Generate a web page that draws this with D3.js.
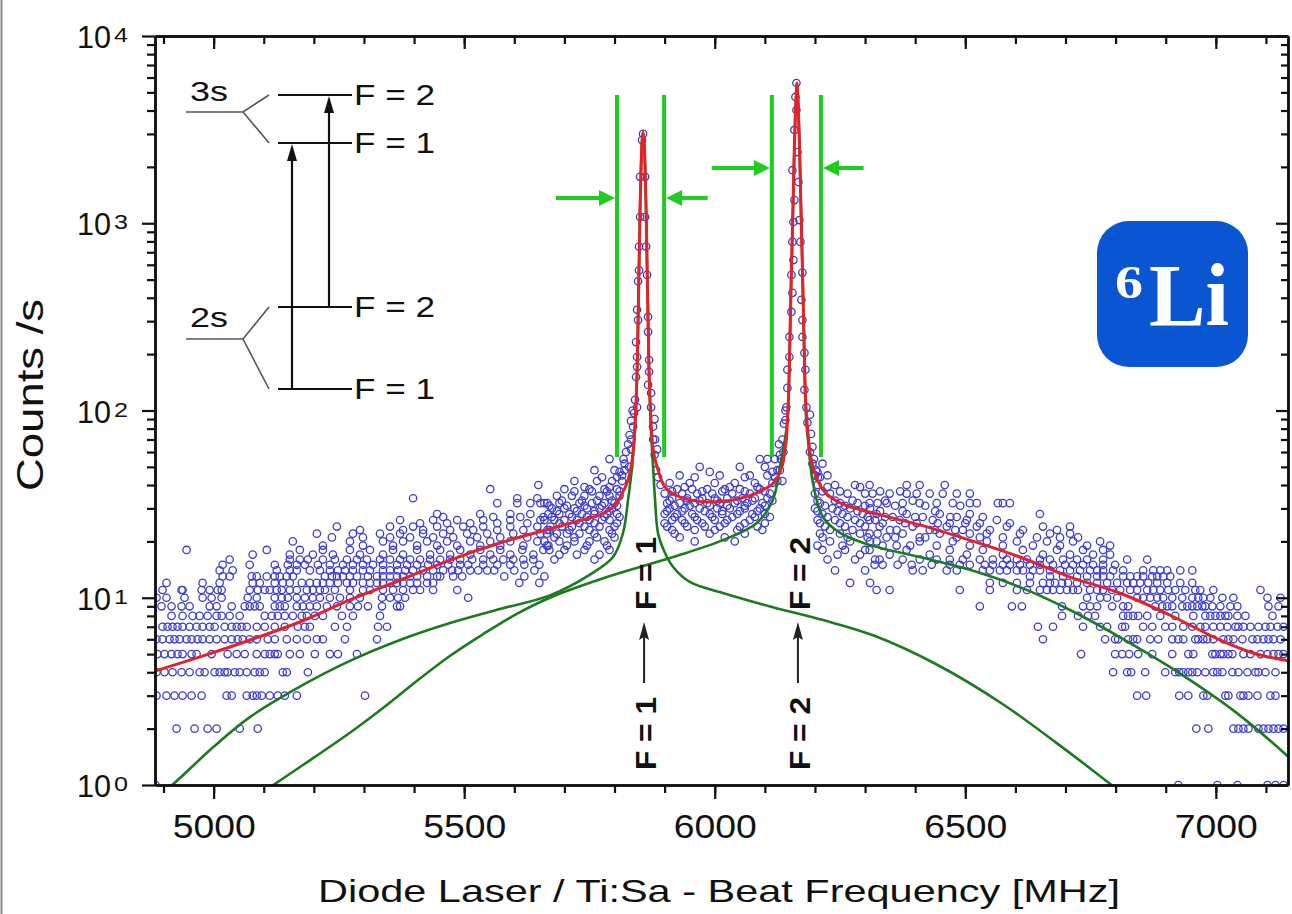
<!DOCTYPE html>
<html>
<head>
<meta charset="utf-8">
<script src="https://cdn.jsdelivr.net/npm/d3@7"></script>
<style>
  body { margin: 0; background: #fff; }
  svg { display: block; }
  text { font-family: "Liberation Sans", Arial, sans-serif; }
</style>
</head>
<body>
<svg id="chart" width="1292" height="914"></svg>
<script>
// ---- axes ----
const xDomain = [4883, 7144];
const yDomain = [1, 10000];
const xMajorTicks = [5000, 5500, 6000, 6500, 7000];
const xMinorTicks = d3.range(4900, 7144, 100);
const yMajorTicks = [1, 10, 100, 1000, 10000];
const yExponents = ["0", "1", "2", "3", "4"];

// ---- measured count rates, one row per integer count level ----
const lowRateRows = [
  [1, [4884, 6925, 7003, 7043, 7103, 7119, 7135]],
  [2, [4926, 4962, 4988, 5006, 5052, 5088, 6961, 6985, 7035, 7045, 7055, 7065, 7085, 7095, 7105, 7115, 7125, 7135]],
  [3, [4886, 4906, 4922, 4938, 4956, 4976, 5026, 5036, 5066, 5078, 5086, 5096, 5112, 5128, 5142, 5166, 5302,
       6843, 6861, 6927, 6945, 6975, 6983, 7019, 7025, 7049, 7055, 7065, 7083, 7109, 7119]],
  [4, [4886, 4902, 4918, 4936, 4952, 4972, 4982, 5002, 5012, 5022, 5028, 5042, 5052, 5066, 5082, 5092, 5102, 5138, 5146, 5188,
       6795, 6823, 6831, 6859, 6899, 6919, 6927, 6935, 6945, 6953, 6963, 6979, 6995, 7003, 7013, 7033, 7045, 7063, 7079, 7085, 7099, 7119]],
  [5, [4888, 4902, 4916, 4928, 4938, 4956, 4966, 4996, 5028, 5046, 5062, 5086, 5102, 5112, 5122, 5128, 5152, 5172, 5202, 5232, 5248, 5286,
       6731, 6799, 6813, 6827, 6845, 6873, 6913, 6945, 6955, 6993, 6999, 7009, 7015, 7025, 7033, 7055, 7069, 7089, 7103, 7115, 7125, 7135]],
  [6, [4886, 4898, 4912, 4922, 4932, 4946, 4956, 4968, 4978, 4992, 5006, 5022, 5036, 5048, 5058, 5072, 5086, 5108, 5122, 5146, 5166, 5186, 5206, 5218, 5262, 5326,
       6655, 6779, 6799, 6805, 6825, 6835, 6843, 6869, 6885, 6913, 6925, 6935, 6959, 6965, 6975, 6983, 6995, 7015, 7025, 7035, 7053, 7073, 7083, 7095, 7105, 7115, 7129]],
  [7, [4898, 4908, 4918, 4928, 4938, 4952, 4966, 4978, 4992, 5002, 5022, 5036, 5046, 5056, 5066, 5086, 5102, 5122, 5142, 5168, 5182, 5192, 5242, 5266, 5328, 5346,
       6645, 6675, 6735, 6769, 6783, 6813, 6819, 6855, 6873, 6899, 6913, 6935, 6953, 6969, 6979, 6995, 7009, 7023, 7039, 7045, 7055, 7069, 7085, 7099, 7109, 7123, 7135]],
  [8, [4916, 4938, 4958, 4972, 4988, 5006, 5016, 5032, 5052, 5102, 5116, 5128, 5142, 5158, 5176, 5186, 5202, 5218, 5256, 5278, 5332,
       6693, 6725, 6745, 6759, 6815, 6825, 6835, 6845, 6863, 6889, 6919, 6955, 6979, 6989, 6999, 7009, 7019, 7025, 7043, 7059, 7113]],
  [9, [4896, 4916, 4936, 4952, 4992, 5006, 5036, 5062, 5072, 5082, 5092, 5122, 5132, 5142, 5166, 5178, 5192, 5206, 5226, 5246, 5272, 5288, 5308, 5336, 5366, 5372,
       6529, 6593, 6613, 6693, 6735, 6749, 6763, 6793, 6815, 6825, 6879, 6893, 6903, 6913, 6933, 6943, 6953, 6963, 6973, 6979, 6993, 7009, 7029, 7043, 7105, 7125]],
  [10, [4886, 4906, 4942, 4978, 4996, 5016, 5068, 5086, 5122, 5136, 5148, 5166, 5182, 5198, 5212, 5232, 5252, 5272, 5292, 5336, 5352, 5368, 5382, 5508,
        6743, 6769, 6783, 6803, 6843, 6855, 6869, 6883, 6895, 6913, 6933, 6953, 6965, 6975, 6989, 7013, 7035, 7103, 7129]]
];

const cloudRows = [
  [11, [4898, 4936, 4938, 4976, 4992, 5008, 5016, 5072, 5088, 5102, 5112, 5126, 5136, 5152, 5166, 5186, 5198, 5212, 5222, 5242, 5272, 5298, 5312, 5338, 5358, 5378, 5398, 5412, 5438, 5486,
        6323, 6349, 6489, 6549, 6603, 6623, 6649, 6663, 6675, 6689, 6703, 6715, 6725, 6749, 6763, 6775, 6793, 6809, 6829, 6843, 6863, 6875, 6889, 6905, 6919, 6939, 6959, 6969, 6995, 7089]],
  [12, [4906, 4978, 5012, 5078, 5092, 5122, 5138, 5152, 5176, 5192, 5206, 5218, 5232, 5248, 5266, 5278, 5298, 5312, 5326, 5338, 5352, 5366, 5378, 5392, 5406, 5426, 5438, 5610, 5650,
        6270, 6310, 6549, 6575, 6603, 6629, 6655, 6669, 6679, 6693, 6705, 6723, 6743, 6763, 6783, 6803, 6823, 6835, 6849, 6865, 6883, 6903, 6929, 6953]],
  [13, [5018, 5032, 5076, 5086, 5106, 5122, 5132, 5146, 5158, 5222, 5236, 5246, 5258, 5272, 5286, 5308, 5326, 5338, 5352, 5366, 5378, 5392, 5406, 5426, 5446, 5452, 5478, 5496, 5580, 5620, 5660,
        6629, 6669, 6695, 6723, 6743, 6763, 6775, 6789, 6815, 6829, 6843, 6855, 6873, 6883, 6895, 6909]],
  [14, [5012, 5038, 5126, 5152, 5166, 5192, 5212, 5232, 5248, 5262, 5278, 5298, 5312, 5338, 5352, 5368, 5382, 5398, 5418, 5438, 5458, 5476, 5488, 5512, 5528, 5546, 5560, 5600, 5640,
        6240, 6300, 6395, 6415, 6463, 6483, 6535, 6549, 6569, 6583, 6603, 6615, 6635, 6649, 6669, 6689, 6709, 6729, 6749, 6763, 6775, 6795, 6815, 6855, 6875, 6889, 6903, 6929, 6953]],
  [15, [5018, 5072, 5122, 5148, 5166, 5182, 5208, 5232, 5258, 5278, 5298, 5318, 5338, 5366, 5386, 5406, 5428, 5446, 5468, 5492, 5508, 5538, 5566, 5592, 5620, 5650,
        6319, 6335, 6365, 6393, 6433, 6469, 6489, 6509, 6539, 6555, 6575, 6589, 6609, 6629, 6649, 6675, 6699, 6715, 6735, 6755, 6775, 6799]],
  [16, [5032, 5152, 5172, 5188, 5218, 5242, 5266, 5286, 5306, 5332, 5352, 5372, 5392, 5412, 5432, 5452, 5472, 5492, 5516, 5538, 5558, 5578, 5598, 5618, 5638, 5680, 5760,
        6225, 6280, 6320, 6329, 6375, 6409, 6443, 6469, 6495, 6529, 6555, 6583, 6603, 6623, 6649, 6669, 6695, 6723, 6743, 6775, 6823, 6863]],
  [17, [5078, 5152, 5198, 5238, 5292, 5338, 5378, 5432, 5472, 5512, 5552, 5592, 5638, 6349, 6429, 6503, 6575, 6655, 6709, 6755, 6789]],
  [18, [4946, 5106, 5172, 5218, 5272, 5312, 5358, 5406, 5452, 5492, 5532, 5572, 5616, 5658, 5670, 5700, 5740, 5790,
        6215, 6260, 6300, 6309, 6383, 6469, 6535, 6615, 6683, 6735, 6775]],
  [19, [5218, 5298, 5358, 5406, 5446, 5486, 5532, 5572, 5618, 5668, 6363, 6443, 6509, 6575, 6635, 6689, 6743, 6789]],
  [20, [5158, 5272, 5338, 5378, 5426, 5466, 5512, 5552, 5592, 5646, 5660, 5690, 5720, 5750, 5780, 5960, 6040,
        6230, 6270, 6310, 6323, 6409, 6475, 6543, 6603, 6663, 6715, 6769]],
  [21, [5236, 5298, 5352, 5392, 5438, 5478, 5526, 5572, 5626, 6343, 6409, 6483, 6529, 6575, 6643, 6689, 6725]],
  [22, [5206, 5278, 5332, 5372, 5418, 5458, 5506, 5546, 5598, 5652, 5665, 5685, 5705, 5730, 5760, 5795, 5920, 5990, 6060,
        6210, 6250, 6290, 6325, 6309, 6375, 6449, 6509, 6543, 6609, 6669, 6709]],
  [23, [5292, 5378, 5418, 5472, 5518, 5566, 5618, 5666, 6363, 6429, 6495, 6549, 6615, 6683]],
  [24, [5246, 5352, 5398, 5446, 5498, 5538, 5592, 5646, 5672, 5695, 5715, 5740, 5770, 5800, 5905, 5945, 5980, 6010, 6050, 6085,
        6220, 6260, 6300, 6329, 6395, 6463, 6523, 6583, 6655, 6709]],
  [25, [5412, 5466, 5512, 5566, 5626, 6335, 6403, 6469, 6529, 6589]],
  [26, [5372, 5438, 5486, 5538, 5592, 5652, 5660, 5680, 5700, 5725, 5750, 5775, 5790, 5915, 5935, 5965, 6000, 6025, 6070,
        6205, 6240, 6280, 6320, 6309, 6369, 6435, 6503, 6563]],
  [27, [5458, 5558, 5612, 5658, 6355, 6415, 6483, 6535]],
  [28, [5446, 5532, 5592, 5632, 5668, 5690, 5710, 5735, 5760, 5785, 5805, 5900, 5925, 5955, 5990, 6015, 6045, 6075, 6100,
        6215, 6255, 6295, 6323, 6383, 6449, 6509, 6649]],
  [30, [5675, 5700, 5720, 5745, 5770, 5795, 5910, 5940, 5970, 6005, 6030, 6060, 6090, 6200, 6235, 6270, 6310]],
  [32, [5566, 5606, 5632, 5652, 5666, 5660, 5690, 5730, 5755, 5780, 5800, 5905, 5930, 5960, 5985, 6010, 6040, 6065, 6095,
        6210, 6250, 6285, 6325, 6309, 6343, 6375, 6409, 6443, 6475, 6509, 6523, 6565, 6575, 6589]],
  [34, [5398, 5606, 5646, 5915, 5945, 5975, 6000, 6025, 6055, 6080, 6105]],
  [35, [5685, 5715, 5740, 5770, 5790, 5810]],
  [36, [5900, 5935, 5965, 5995, 6035, 6070, 6110, 6200, 6230, 6265, 6300, 6315, 6349, 6383, 6403, 6429, 6455, 6483, 6509]],
  [38, [5552, 5700, 5750, 5780, 5805, 5925, 5955, 5985, 6020, 6050, 6090]],
  [40, [5648, 6205, 6240, 6280, 6309, 6383, 6409, 6459]],
  [41, [5910, 5950, 6000, 6040, 6080, 6115]],
  [42, [5720, 5765, 5795, 5815, 6125, 6135]],
  [45, [5930, 6010, 6070, 6105, 6200, 6225]],
  [48, [5760, 5800, 5820, 6130]],
  [50, [5970, 6050, 6100]],
  [52, [6195, 6215]],
  [55, [5790, 5818, 6090, 6120, 6105, 6132]],
  [60, [6137]]
];

// crowded bands beside the resonances
const denseRows = [
  [17, [5690, 5725, 5770, 6245, 6290]],
  [19, [5665, 5705, 5745, 5785, 6205, 6255, 6335, 6390]],
  [21, [5680, 5720, 5765, 5800, 5930, 6020, 6215, 6265, 6305, 6360, 6420]],
  [23, [5670, 5710, 5750, 5790, 5915, 5960, 6000, 6045, 6095, 6230, 6275, 6350, 6440, 6480]],
  [25, [5690, 5730, 5760, 5805, 5900, 5940, 5975, 6020, 6060, 6100, 6210, 6250, 6290, 6380, 6445, 6500]],
  [27, [5675, 5715, 5745, 5780, 5810, 5920, 5960, 5995, 6035, 6080, 6110, 6225, 6265, 6305, 6340, 6400, 6470]],
  [29, [5685, 5725, 5760, 5790, 5905, 5935, 5980, 6015, 6050, 6085, 6205, 6245, 6285, 6330, 6375, 6440]],
  [31, [5670, 5705, 5740, 5775, 5805, 5920, 5950, 5990, 6025, 6060, 6100, 6220, 6260, 6300, 6360, 6420, 6490]],
  [33, [5695, 5735, 5765, 5795, 5910, 5945, 5970, 6005, 6045, 6075, 6115, 6205, 6240, 6275, 6340, 6395]],
  [37, [5720, 5755, 5785, 5810, 5915, 5975, 6015, 6060, 6100, 6215, 6250, 6330, 6370]],
  [39, [5740, 5790, 5940, 6030, 6085, 6225, 6290]],
  [44, [5775, 5805, 5960, 6060, 6120, 6210]],
  [47, [5810, 5990, 6115, 6205]]
];

// points on the flanks and tops of the two resonances [MHz, counts/s]
const peakPoints = [
  [5815, 45], [5820, 52], [5823, 60], [5827, 66], [5830, 74], [5833, 88], [5836, 100], [5833, 62], [5829, 50],
  [5857, 3000], [5855, 2780], [5851, 1770], [5861, 1770], [5851, 1080], [5861, 1080], [5849, 750], [5863, 750],
  [5849, 560], [5865, 530], [5847, 490], [5845, 345], [5867, 316], [5847, 304], [5843, 232], [5867, 263],
  [5845, 193], [5869, 186], [5845, 171], [5843, 151], [5869, 161], [5867, 137], [5841, 114], [5873, 124],
  [5845, 104], [5839, 97], [5873, 104], [5837, 82], [5877, 82], [5833, 70], [5881, 70],
  [5877, 70], [5880, 58], [5883, 48], [5887, 44], [5892, 40], [5880, 90], [5885, 62],
  [6125, 48], [6130, 58], [6135, 70], [6138, 85], [6141, 100], [6128, 66],
  [6163, 5610], [6161, 4725], [6163, 4025], [6159, 3150], [6165, 2400], [6155, 1920], [6167, 1660], [6159, 1330],
  [6169, 1040], [6157, 1015], [6155, 795], [6171, 795], [6157, 636], [6153, 530], [6175, 545], [6155, 425],
  [6173, 390], [6153, 336], [6175, 304], [6149, 247], [6175, 247], [6149, 193], [6179, 203], [6145, 165],
  [6181, 165], [6145, 132], [6179, 129], [6143, 104], [6183, 104], [6141, 89], [6185, 86],
  [6190, 95], [6192, 75], [6195, 64], [6198, 55], [6202, 48], [6206, 44], [6190, 60]
];

// fitted curves [MHz, counts/s]
const fitTotal = [
  [4883, 4.06], [4973, 4.83], [5073, 5.95], [5172, 7.42], [5272, 9.73], [5372, 12.4], [5472, 15.9], [5571, 19.6],
  [5671, 23.3], [5730, 25.8], [5771, 27.7], [5790, 29.5], [5805, 32.1], [5815, 36], [5825, 41], [5835, 54],
  [5841, 85], [5843, 110], [5845, 160], [5847, 300], [5849, 600], [5851, 1200], [5853, 2000], [5855, 2750],
  [5857, 3070], [5859, 2750], [5861, 2000], [5863, 1200], [5865, 600], [5867, 300], [5869, 160], [5871, 112],
  [5873, 85], [5877, 62], [5885, 50], [5901, 39], [5931, 34.5], [5984, 32.5], [6036, 33.3], [6084, 36.3],
  [6117, 41], [6134, 50], [6140, 62], [6143, 70], [6145, 90], [6147, 114], [6149, 180], [6151, 320], [6153, 560],
  [6155, 900], [6157, 1500], [6159, 2600], [6161, 3900], [6163, 5100], [6164, 5610], [6165, 5300], [6167, 4000],
  [6169, 2700], [6171, 1600], [6173, 950], [6175, 580], [6177, 330], [6179, 190], [6181, 120], [6183, 95],
  [6186, 76], [6190, 60], [6196, 50], [6216, 37.6], [6250, 32.1], [6330, 27.7], [6409, 24.5], [6509, 20.3],
  [6609, 16.5], [6709, 12.9], [6808, 10.6], [6908, 8.09], [7008, 5.95], [7074, 5.07], [7144, 4.6]
];

const fitF1 = [
  [4883, 0.86], [4917, 1.0], [5000, 1.6], [5073, 2.31], [5172, 3.35], [5272, 4.6], [5372, 5.95], [5472, 7.33],
  [5571, 8.7], [5671, 10.3], [5751, 13.3], [5797, 16.5],
  [5817, 22.2], [5827, 33.3], [5835, 49.9], [5841, 80], [5843, 105], [5845, 155], [5847, 295], [5849, 590],
  [5851, 1190], [5853, 1990], [5855, 2740], [5857, 3060], [5859, 2740], [5861, 1990], [5863, 1190], [5865, 590],
  [5867, 295], [5869, 150], [5871, 105], [5873, 76], [5877, 50], [5881, 33], [5887, 22], [5901, 17.3],
  [5917, 14.6], [5951, 12.1], [6016, 10.6], [6116, 8.9], [6216, 7.6], [6316, 6.3], [6443, 4.4], [6575, 2.7],
  [6709, 1.48], [6792, 1.0], [6830, 0.84]
];

const fitF2 = [
  [5073, 0.83], [5119, 1.0], [5200, 1.4], [5272, 1.9], [5340, 2.6], [5406, 3.6], [5472, 4.9], [5538, 6.4],
  [5605, 8.2], [5671, 10.0], [5785, 12.9], [5917, 16.5],
  [6016, 20.3], [6084, 25.1], [6116, 33.3], [6130, 49.9], [6140, 70], [6145, 88], [6147, 110], [6149, 175],
  [6151, 315], [6153, 550], [6155, 890], [6157, 1490], [6159, 2590], [6161, 3890], [6163, 5090], [6164, 5600],
  [6165, 5290], [6167, 3990], [6169, 2690], [6171, 1590], [6173, 940], [6175, 570], [6177, 320], [6179, 180],
  [6181, 110], [6183, 85], [6186, 70], [6196, 41], [6216, 27], [6250, 22.2], [6310, 19.1], [6409, 16.5],
  [6509, 14.1], [6609, 11.4], [6709, 8.6], [6808, 6.17], [6908, 4.27], [7042, 2.42], [7144, 1.42]
];

// linewidth markers and their arrows
const widthMarkers = [5805, 5899, 6114, 6212];
const widthMarkerRange = [56.5, 4840];
const widthArrows = [
  { y: 1365, from: 5683, to: 5805 },
  { y: 1365, from: 5986, to: 5899 },
  { y: 1973, from: 5994, to: 6114 },
  { y: 1973, from: 6297, to: 6212 }
];
const transitionLabels = [
  { freq: 5859, lower: "F = 1", upper: "F = 1" },
  { freq: 6166, lower: "F = 2", upper: "F = 2" }
];

// ---- layout ----
const W = 1292, H = 914;
const plot = { left: 155, right: 1288, top: 36, bottom: 785 };
const BLUE_PTS = "#3c3cd2";
const RED = "#e3222a";
const DARK_GREEN = "#1c7a1f";
const LIGHT_GREEN = "#1fcc1f";

const svg = d3.select("#chart");

const x = d3.scaleLinear().domain(xDomain).range([plot.left, plot.right]);
const y = d3.scaleLog().domain(yDomain).range([plot.bottom, plot.top]);

function stretch(sel, width) {
  sel.attr("textLength", width).attr("lengthAdjust", "spacingAndGlyphs");
}

// page edge line seen in the picture
svg.append("line")
  .attr("x1", 1.5).attr("x2", 1.5).attr("y1", 0).attr("y2", H)
  .attr("stroke", "#8a8a8a").attr("stroke-width", 2);

svg.append("defs").append("clipPath").attr("id", "plot-clip")
  .append("rect")
  .attr("x", plot.left).attr("y", plot.top)
  .attr("width", plot.right - plot.left).attr("height", plot.bottom - plot.top);

// ---- scatter ----
const scatter = [];
lowRateRows.concat(cloudRows, denseRows).forEach(([c, freqs]) => {
  freqs.forEach(f => scatter.push([f, c]));
});
peakPoints.forEach(p => scatter.push(p));

const dataLayer = svg.append("g").attr("clip-path", "url(#plot-clip)");

dataLayer.append("g")
  .selectAll("circle")
  .data(scatter)
  .enter().append("circle")
  .attr("cx", d => x(d[0]))
  .attr("cy", d => y(d[1]))
  .attr("r", 3.7)
  .attr("fill", "none")
  .attr("stroke", BLUE_PTS)
  .attr("stroke-width", 1.3);

// ---- fit curves ----
const line = d3.line()
  .x(d => x(d[0]))
  .y(d => y(d[1]))
  .curve(d3.curveCatmullRom.alpha(0.5));

[fitF1, fitF2].forEach(curve => {
  dataLayer.append("path")
    .datum(curve)
    .attr("d", line)
    .attr("fill", "none")
    .attr("stroke", DARK_GREEN)
    .attr("stroke-width", 2.6);
});

dataLayer.append("path")
  .datum(fitTotal)
  .attr("d", line)
  .attr("fill", "none")
  .attr("stroke", RED)
  .attr("stroke-width", 3);

// ---- axes ----
function styleAxis(g) {
  g.select(".domain").attr("stroke", "#111").attr("stroke-width", 2.5);
  g.selectAll(".tick line").attr("stroke", "#111").attr("stroke-width", 2.2);
}

const yMinor = [];
[1, 10, 100, 1000].forEach(dec => {
  for (let k = 2; k <= 9; k++) yMinor.push(dec * k);
});

// bottom
svg.append("g").attr("transform", `translate(0,${plot.bottom})`)
  .call(d3.axisBottom(x).tickValues(xMinorTicks).tickSize(8).tickFormat("").tickSizeOuter(0))
  .call(styleAxis);
const xAxis = svg.append("g").attr("transform", `translate(0,${plot.bottom})`)
  .call(d3.axisBottom(x).tickValues(xMajorTicks).tickSize(14).tickFormat(d3.format("d")).tickSizeOuter(0))
  .call(styleAxis);
xAxis.selectAll(".tick text")
  .attr("y", 53).attr("dy", 0)
  .attr("fill", "#111")
  .style("font-size", "33px")
  .style("font-family", "'Liberation Sans', Arial, sans-serif")
  .call(stretch, 83);

// top
svg.append("g").attr("transform", `translate(0,${plot.top})`)
  .call(d3.axisTop(x).tickValues(xMinorTicks).tickSize(-8).tickFormat("").tickSizeOuter(0))
  .call(styleAxis);
svg.append("g").attr("transform", `translate(0,${plot.top})`)
  .call(d3.axisTop(x).tickValues(xMajorTicks).tickSize(-13).tickFormat("").tickSizeOuter(0))
  .call(styleAxis);

// left
svg.append("g").attr("transform", `translate(${plot.left},0)`)
  .call(d3.axisLeft(y).tickValues(yMinor).tickSize(8).tickFormat("").tickSizeOuter(0))
  .call(styleAxis);
svg.append("g").attr("transform", `translate(${plot.left},0)`)
  .call(d3.axisLeft(y).tickValues(yMajorTicks).tickSize(13).tickFormat("").tickSizeOuter(0))
  .call(styleAxis);

// right
svg.append("g").attr("transform", `translate(${plot.right},0)`)
  .call(d3.axisRight(y).tickValues(yMinor).tickSize(-7).tickFormat("").tickSizeOuter(0))
  .call(styleAxis);
svg.append("g").attr("transform", `translate(${plot.right},0)`)
  .call(d3.axisRight(y).tickValues(yMajorTicks).tickSize(-12).tickFormat("").tickSizeOuter(0))
  .call(styleAxis);

// 10^n labels
const yLabels = svg.append("g").attr("fill", "#111");
yMajorTicks.forEach((v, i) => {
  const yy = y(v);
  yLabels.append("text")
    .attr("x", 94).attr("y", yy + 12)
    .attr("text-anchor", "middle")
    .style("font-size", "31px")
    .text("10")
    .call(stretch, 34);
  yLabels.append("text")
    .attr("x", 121).attr("y", yy + 6)
    .attr("text-anchor", "middle")
    .style("font-size", "21px")
    .text(yExponents[i])
    .call(stretch, 14);
});

// axis titles
svg.append("text")
  .attr("x", 719).attr("y", 902)
  .attr("text-anchor", "middle")
  .attr("fill", "#111")
  .style("font-size", "32px")
  .text("Diode Laser / Ti:Sa - Beat Frequency [MHz]")
  .call(stretch, 802);

svg.append("text")
  .attr("transform", "translate(43,395) rotate(-90)")
  .attr("text-anchor", "middle")
  .attr("fill", "#111")
  .style("font-size", "37px")
  .text("Counts /s")
  .call(stretch, 192);

// ---- linewidth markers ----
const markers = svg.append("g");
widthMarkers.forEach(f => {
  markers.append("line")
    .attr("x1", x(f)).attr("x2", x(f))
    .attr("y1", y(widthMarkerRange[0])).attr("y2", y(widthMarkerRange[1]))
    .attr("stroke", LIGHT_GREEN).attr("stroke-width", 4);
});
widthArrows.forEach(a => {
  const x0 = x(a.from), x1 = x(a.to), yy = y(a.y);
  const dir = Math.sign(x1 - x0);
  const head = 16;
  markers.append("line")
    .attr("x1", x0).attr("x2", x1 - dir * head)
    .attr("y1", yy).attr("y2", yy)
    .attr("stroke", LIGHT_GREEN).attr("stroke-width", 4);
  markers.append("path")
    .attr("d", `M${x1 - dir * 2},${yy} L${x1 - dir * (head + 2)},${yy - 8} L${x1 - dir * (head + 2)},${yy + 8} Z`)
    .attr("fill", LIGHT_GREEN);
});

// ---- transition labels ----
transitionLabels.forEach(t => {
  const g = svg.append("g")
    .attr("transform", `translate(${x(t.freq)},653) rotate(-90)`);
  g.append("text")
    .attr("x", -117).attr("y", 12)
    .style("font-size", "30px").style("font-weight", "bold")
    .attr("fill", "#111")
    .text(t.lower)
    .call(stretch, 73);
  g.append("text")
    .attr("x", 43).attr("y", 12)
    .style("font-size", "30px").style("font-weight", "bold")
    .attr("fill", "#111")
    .text(t.upper)
    .call(stretch, 73);
  g.append("line")
    .attr("x1", -30).attr("x2", 20).attr("y1", 0).attr("y2", 0)
    .attr("stroke", "#222").attr("stroke-width", 2);
  g.append("path")
    .attr("d", "M31,0 L13,-5 L16,0 L13,5 Z")
    .attr("fill", "#222");
});

// ---- level scheme inset ----
const scheme = svg.append("g");
const grey = "#555";
[[112, 95, 143, "3s", 101], [339, 307, 389, "2s", 327]].forEach(([yc, yu, yl, name, ty]) => {
  scheme.append("path")
    .attr("d", `M186,${yc} L243,${yc} L269,${yu} M243,${yc} L269,${yl}`)
    .attr("fill", "none").attr("stroke", grey).attr("stroke-width", 1.6);
  scheme.append("text")
    .attr("x", 190).attr("y", ty)
    .style("font-size", "27px").attr("fill", "#111")
    .text(name)
    .call(stretch, 38);
  [[yu, "F = 2"], [yl, "F = 1"]].forEach(([yy, lab]) => {
    scheme.append("line")
      .attr("x1", 278).attr("x2", 352).attr("y1", yy).attr("y2", yy)
      .attr("stroke", "#111").attr("stroke-width", 2.2);
    scheme.append("text")
      .attr("x", 354).attr("y", yy + 10)
      .style("font-size", "30px").attr("fill", "#111")
      .text(lab)
      .call(stretch, 81);
  });
});
[[292, 389, 143], [329, 307, 95]].forEach(([ax, y0, y1]) => {
  scheme.append("line")
    .attr("x1", ax).attr("x2", ax).attr("y1", y0).attr("y2", y1 + 14)
    .attr("stroke", "#111").attr("stroke-width", 2.2);
  scheme.append("path")
    .attr("d", `M${ax},${y1 + 1} L${ax - 5},${y1 + 18} L${ax + 5},${y1 + 18} Z`)
    .attr("fill", "#111");
});

// ---- isotope badge ----
const badge = svg.append("g");
badge.append("rect")
  .attr("x", 1097).attr("y", 221).attr("width", 151).attr("height", 146)
  .attr("rx", 32).attr("fill", "#0a55d2");
badge.append("text")
  .attr("x", 1115).attr("y", 298)
  .style("font-family", "'Liberation Serif', 'DejaVu Serif', serif")
  .style("font-size", "46px").style("font-weight", "bold")
  .attr("fill", "#fff")
  .text("6")
  .call(stretch, 28);
badge.append("text")
  .attr("x", 1149).attr("y", 325)
  .style("font-family", "'Liberation Serif', 'DejaVu Serif', serif")
  .style("font-size", "88px").style("font-weight", "bold")
  .attr("fill", "#fff")
  .text("Li")
  .call(stretch, 80);
</script>
</body>
</html>
